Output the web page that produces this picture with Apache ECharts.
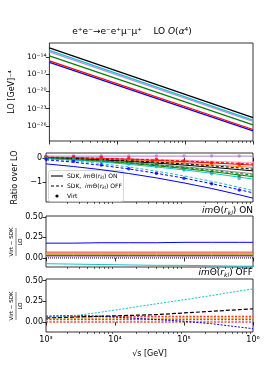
<!DOCTYPE html>
<html><head><meta charset="utf-8">
<script src="https://cdn.jsdelivr.net/npm/echarts@6/dist/echarts.min.js"></script>
<style>html,body{margin:0;padding:0;background:#fff}#c{width:266px;height:372px}</style>
</head><body><div id="c"></div>
<script>
// ---------- data ----------
const xLO = [1000, 1000000];
const xs = [1000, 2512, 6310, 15849, 39811, 100000, 251189, 630957, 1000000];
const xVirt = [1000, 2512, 6310, 15849, 39811, 100000, 251189, 630957];

// Panel 1: LO [GeV^-4]
const loBlack  = [3.6e-13, 2.9e-25];
const loCyan   = [1.35e-13, 1.07e-25];
const loViolet = [7.4e-14, 6.3e-26];
const loGreen  = [1.5e-14, 1.6e-26];
const loRed    = [2.0e-15, 2.5e-27];
const loBlue   = [1.1e-15, 1.4e-27];

// Panel 2: ratio over LO, SDK imTheta ON (solid)
const rOnPurple = [0.07, 0.07, 0.07, 0.07, 0.07, 0.07, 0.07, 0.07, 0.07];
const rOnPink   = [0.03, 0.01, -0.01, -0.03, -0.06, -0.10, -0.14, -0.18, -0.20];
const rOnRed    = [0.02, 0.00, -0.03, -0.07, -0.11, -0.16, -0.21, -0.27, -0.30];
const rOnOrange = [0.01, -0.02, -0.06, -0.10, -0.16, -0.22, -0.29, -0.36, -0.40];
const rOnBlack  = [0.00, -0.04, -0.09, -0.15, -0.22, -0.30, -0.39, -0.49, -0.54];
const rOnGray   = [-0.01, -0.06, -0.12, -0.19, -0.28, -0.37, -0.48, -0.60, -0.66];
const rOnGreen  = [-0.02, -0.08, -0.15, -0.23, -0.33, -0.44, -0.57, -0.71, -0.78];
const rOnCyan   = [-0.03, -0.09, -0.17, -0.27, -0.38, -0.50, -0.64, -0.80, -0.88];
const rOnBlue   = [-0.25, -0.36, -0.49, -0.65, -0.83, -1.04, -1.27, -1.53, -1.67];
// SDK imTheta OFF (dashed)
const rOffBlack  = [0.00, -0.03, -0.07, -0.12, -0.18, -0.25, -0.33, -0.42, -0.47];
const rOffRed    = [0.03, 0.01, -0.02, -0.05, -0.09, -0.13, -0.18, -0.23, -0.26];
const rOffGreen  = [-0.01, -0.06, -0.12, -0.20, -0.29, -0.40, -0.52, -0.65, -0.72];
const rOffCyan   = [-0.04, -0.12, -0.24, -0.38, -0.55, -0.75, -0.97, -1.22, -1.36];
const rOffBlue   = [-0.08, -0.18, -0.31, -0.46, -0.64, -0.84, -1.07, -1.32, -1.45];
// Virt (dots)
const vPurple = [0.07, 0.08, 0.08, 0.08, 0.08, 0.08, 0.08, 0.08];
const vRed    = [0.04, 0.04, 0.02, -0.01, -0.06, -0.12, -0.20, -0.26];
const vOrange = [0.02, 0.00, -0.04, -0.08, -0.13, -0.19, -0.25, -0.33];
const vGreen  = [-0.01, -0.06, -0.13, -0.21, -0.31, -0.45, -0.60, -0.75];
const vCyan   = [-0.02, -0.08, -0.16, -0.26, -0.37, -0.50, -0.66, -0.86];
const vBlue   = [-0.05, -0.14, -0.30, -0.45, -0.64, -0.85, -1.07, -1.33];

// Panel 3: (Virt-SDK)/LO, imTheta ON
const dOnBlue   = [0.18, 0.18, 0.185, 0.185, 0.185, 0.19, 0.19, 0.19, 0.19];
const dOnRed    = [0.07, 0.07, 0.07, 0.07, 0.07, 0.07, 0.07, 0.07, 0.07];
const dOnPink   = [0.06, 0.06, 0.06, 0.06, 0.06, 0.06, 0.06, 0.06, 0.06];
const dOnOrange = [0.05, 0.05, 0.05, 0.05, 0.05, 0.05, 0.05, 0.05, 0.05];
const dOnOlive  = [0.04, 0.04, 0.04, 0.04, 0.04, 0.04, 0.04, 0.04, 0.04];
const dOnGreen  = [0.03, 0.03, 0.03, 0.03, 0.03, 0.03, 0.03, 0.03, 0.03];
const dOnPurple = [0.02, 0.02, 0.02, 0.02, 0.02, 0.02, 0.02, 0.02, 0.02];
const dOnBlack  = [0.00, 0.00, 0.00, 0.00, 0.00, 0.00, 0.00, 0.00, 0.00];
const dOnCyan   = [-0.07, -0.075, -0.08, -0.085, -0.09, -0.09, -0.095, -0.10, -0.10];

// Panel 4: (Virt-SDK)/LO, imTheta OFF
const dOffCyan   = [0.06, 0.075, 0.12, 0.17, 0.22, 0.27, 0.32, 0.375, 0.40];
const dOffBlack  = [0.05, 0.06, 0.07, 0.08, 0.09, 0.11, 0.13, 0.15, 0.16];
const dOffBlue   = [0.07, 0.08, 0.07, 0.05, 0.03, 0.01, -0.02, -0.06, -0.08];
const dOffRed    = [0.07, 0.07, 0.07, 0.07, 0.07, 0.07, 0.07, 0.07, 0.07];
const dOffPink   = [0.06, 0.06, 0.06, 0.06, 0.06, 0.06, 0.06, 0.06, 0.06];
const dOffOrange = [0.05, 0.05, 0.05, 0.05, 0.05, 0.05, 0.05, 0.05, 0.05];
const dOffOlive  = [0.04, 0.04, 0.04, 0.04, 0.04, 0.04, 0.04, 0.04, 0.04];
const dOffGreen  = [0.03, 0.03, 0.03, 0.03, 0.03, 0.03, 0.03, 0.03, 0.03];
const dOffPurple = [0.01, 0.01, 0.01, 0.01, 0.01, 0.01, 0.01, 0.01, 0.01];
const dOffRed2   = [0.00, 0.00, 0.00, 0.00, 0.00, 0.00, 0.00, 0.00, 0.00];

// tick labels
const xMajor = [3, 4, 5, 6];
const y1Ticks = [-26, -23, -20, -17, -14];
const y2Ticks = [-1, 0];
const y34Ticks = [0, 0.25, 0.5];

const COL = {purple:'#b07cd8', pink:'#f2a6c6', red:'#ff0000', orange:'#ff7f0e', black:'#000000',
  gray:'#8a8a8a', olive:'#b5b520', green:'#008000', cyan:'#17becf', blue:'#0000ff', violet:'#c58be0'};

// ---------- helpers ----------
const SUP = {'-':'⁻','0':'⁰','1':'¹','2':'²','3':'³','4':'⁴','5':'⁵','6':'⁶','7':'⁷','8':'⁸','9':'⁹'};
const sup = s => String(s).split('').map(c => SUP[c] || c).join('');
const FONT = 'DejaVu Sans';

function line(p, xArr, yArr, color, dash, width, logY) {
  return {type:'line', xAxisIndex:p*2, yAxisIndex:p, symbol:'none', silent:true, animation:false,
    data: xArr.map((x,i) => [Math.log10(x), logY ? Math.log10(yArr[i]) : yArr[i]]),
    lineStyle:{color, width: width || 1, type: dash || 'solid'}, itemStyle:{color}, z:2};
}
function dots(p, xArr, yArr, color) {
  return {type:'scatter', xAxisIndex:p*2, yAxisIndex:p, symbol:'circle', symbolSize:3.5, silent:true, animation:false,
    data: xArr.map((x,i) => [Math.log10(x), yArr[i]]), itemStyle:{color}, z:3};
}

const minorVals = [];
for (let n = 3; n < 6; n++) for (let k = 2; k <= 9; k++) minorVals.push(Math.log10(k * Math.pow(10, n)));

const grids = [
  {left:46, width:207, top:43, height:98},
  {left:46, width:207, top:153, height:49},
  {left:46, width:207, top:216, height:51},
  {left:46, width:207, top:279, height:53}
].map(g => Object.assign(g, {show:true, borderColor:'#000', borderWidth:0.8, backgroundColor:'rgba(0,0,0,0)', containLabel:false}));

const xAxes = [];
for (let i = 0; i < 4; i++) {
  xAxes.push({gridIndex:i, type:'value', min:3, max:6, position:'bottom',
    axisLine:{show:false}, splitLine:{show:false},
    axisTick:{show:true, customValues:xMajor, length:3.5, lineStyle:{color:'#000', width:0.8}},
    axisLabel:{show:i===3, customValues:xMajor, formatter:v => '10' + sup(Math.round(v)), fontSize:8, color:'#000', fontFamily:FONT, margin:4},
    name: i===3 ? '√s [GeV]' : '', nameLocation:'middle', nameGap:18,
    nameTextStyle:{fontSize:8, color:'#000', fontFamily:FONT}});
  xAxes.push({gridIndex:i, type:'value', min:3, max:6, position:'bottom',
    axisLine:{show:false}, splitLine:{show:false},
    axisTick:{show:true, customValues:minorVals, length:2, lineStyle:{color:'#000', width:0.6}},
    axisLabel:{show:false}});
}

const yBase = {type:'value', axisLine:{show:false}, splitLine:{show:false},
  nameLocation:'middle', nameRotate:90, nameTextStyle:{fontSize:8, color:'#000', fontFamily:FONT}};
const yAxes = [
  Object.assign({}, yBase, {gridIndex:0, min:-28.6, max:-11.6, name:'LO [GeV]⁻⁴', nameGap:30,
    axisTick:{customValues:y1Ticks, length:3.5, lineStyle:{color:'#000', width:0.8}},
    axisLabel:{customValues:y1Ticks, formatter:v => '10' + sup(Math.round(v)), fontSize:7.5, color:'#000', fontFamily:FONT, margin:3}}),
  Object.assign({}, yBase, {gridIndex:1, min:-1.83, max:0.2, name:'Ratio over LO', nameGap:27,
    axisTick:{customValues:y2Ticks, length:3.5, lineStyle:{color:'#000', width:0.8}},
    axisLabel:{customValues:y2Ticks, formatter:v => v < 0 ? '−1' : '0', fontSize:8, color:'#000', fontFamily:FONT, margin:4}}),
  Object.assign({}, yBase, {gridIndex:2, min:-0.11, max:0.51,
    axisTick:{customValues:y34Ticks, length:3.5, lineStyle:{color:'#000', width:0.8}},
    axisLabel:{customValues:y34Ticks, formatter:v => v.toFixed(2), fontSize:8, color:'#000', fontFamily:FONT, margin:3}}),
  Object.assign({}, yBase, {gridIndex:3, min:-0.12, max:0.52,
    axisTick:{customValues:y34Ticks, length:3.5, lineStyle:{color:'#000', width:0.8}},
    axisLabel:{customValues:y34Ticks, formatter:v => v.toFixed(2), fontSize:8, color:'#000', fontFamily:FONT, margin:3}})
];

const series = [
  // panel 1
  line(0, xLO, loBlue, COL.blue, 'solid', 1.2, true),
  line(0, xLO, loRed, COL.red, 'solid', 1.2, true),
  line(0, xLO, loGreen, COL.green, 'solid', 1.2, true),
  line(0, xLO, loViolet, COL.violet, 'solid', 1.2, true),
  line(0, xLO, loCyan, COL.cyan, 'solid', 1.2, true),
  line(0, xLO, loBlack, COL.black, 'solid', 1.4, true),
  // panel 2 solid
  line(1, xs, rOnPurple, COL.purple),
  line(1, xs, rOnPink, COL.pink),
  line(1, xs, rOnRed, COL.red),
  line(1, xs, rOnOrange, COL.orange),
  line(1, xs, rOnBlack, COL.black),
  line(1, xs, rOnGray, COL.gray),
  line(1, xs, rOnGreen, COL.green),
  line(1, xs, rOnCyan, COL.cyan),
  line(1, xs, rOnBlue, COL.blue),
  // panel 2 dashed
  line(1, xs, rOffBlack, COL.black, [3,2]),
  line(1, xs, rOffRed, COL.red, [3,2]),
  line(1, xs, rOffGreen, COL.green, [3,2]),
  line(1, xs, rOffCyan, COL.cyan, [3,2]),
  line(1, xs, rOffBlue, COL.blue, [3,2]),
  // panel 2 dots
  dots(1, xVirt, vPurple, COL.purple),
  dots(1, xVirt, vOrange, COL.orange),
  dots(1, xVirt, vRed, COL.red),
  dots(1, xVirt, vGreen, COL.green),
  dots(1, xVirt, vCyan, COL.cyan),
  dots(1, xVirt, vBlue, COL.blue),
  // panel 3
  line(2, xs, dOnBlue, COL.blue),
  line(2, xs, dOnRed, COL.red),
  line(2, xs, dOnPink, COL.pink),
  line(2, xs, dOnOrange, COL.orange),
  line(2, xs, dOnOlive, COL.olive),
  line(2, xs, dOnGreen, COL.green),
  line(2, xs, dOnPurple, COL.purple),
  line(2, xs, dOnBlack, COL.black, [1,1]),
  line(2, xs, dOnCyan, COL.cyan),
  // panel 4
  line(3, xs, dOffRed2, COL.red, [2,1.5]),
  line(3, xs, dOffPurple, COL.purple, [2,1.5]),
  line(3, xs, dOffGreen, COL.green, [2,1.5]),
  line(3, xs, dOffOlive, COL.olive, [2,1.5]),
  line(3, xs, dOffOrange, COL.orange, [2,1.5]),
  line(3, xs, dOffPink, COL.pink, [2,1.5]),
  line(3, xs, dOffRed, COL.red, [2,1.5]),
  line(3, xs, dOffBlue, COL.blue, [2,1.5]),
  line(3, xs, dOffBlack, COL.black, [4,2], 1.2),
  line(3, xs, dOffCyan, COL.cyan, [2,1.5])
];

const richLbl = {
  n:{fontSize:9, fontFamily:FONT, color:'#000'},
  i:{fontSize:9, fontFamily:FONT, fontStyle:'italic', color:'#000'},
  s:{fontSize:6, fontFamily:FONT, fontStyle:'italic', color:'#000', padding:[4,0,0,0]}
};
const richLeg = {
  n:{fontSize:6, fontFamily:FONT, color:'#000'},
  i:{fontSize:6, fontFamily:FONT, fontStyle:'italic', color:'#000'},
  s:{fontSize:4.5, fontFamily:FONT, fontStyle:'italic', color:'#000', padding:[3,0,0,0]}
};

function fracLabel(cx, cy) {
  return {type:'group', x:cx, y:cy, rotation:Math.PI/2, children:[
    {type:'text', style:{text:'Virt − SDK', x:0, y:-1.5, fontSize:5.5, fontFamily:FONT, fill:'#000', align:'center', verticalAlign:'bottom'}},
    {type:'line', shape:{x1:-14, y1:0, x2:14, y2:0}, style:{stroke:'#000', lineWidth:0.5}},
    {type:'text', style:{text:'LO', x:0, y:1.5, fontSize:5.5, fontFamily:FONT, fill:'#000', align:'center', verticalAlign:'top'}}
  ]};
}

const graphic = [
  {type:'text', x:132, y:32, style:{
    text:'{n|e⁺e⁻→e⁻e⁺μ⁻μ⁺    LO }{i|O}{n|(}{i|α}{n|⁴)}',
    rich:{n:{fontSize:9, fontFamily:FONT, fill:'#000'}, i:{fontSize:9, fontFamily:FONT, fontStyle:'italic', fill:'#000'}},
    align:'center', verticalAlign:'middle'}},
  {type:'text', x:253, y:211, style:{text:'{i|im}{n|Θ(}{i|r}{s|kl}{n|) ON}', rich:richLbl, align:'right', verticalAlign:'middle'}},
  {type:'text', x:253, y:273, style:{text:'{i|im}{n|Θ(}{i|r}{s|kl}{n|) OFF}', rich:richLbl, align:'right', verticalAlign:'middle'}},
  fracLabel(16, 242),
  fracLabel(16, 306),
  // legend
  {type:'group', z:50, children:[
    {type:'rect', shape:{x:48.5, y:170.5, width:75, height:31, r:2}, style:{fill:'rgba(255,255,255,0.85)', stroke:'#cccccc', lineWidth:0.8}},
    {type:'line', shape:{x1:51, y1:176, x2:63, y2:176}, style:{stroke:'#000', lineWidth:1.1}},
    {type:'text', x:67, y:176, style:{text:'{n|SDK, }{i|im}{n|Θ(}{i|r}{s|kl}{n|) ON}', rich:richLeg, verticalAlign:'middle'}},
    {type:'line', shape:{x1:51, y1:186, x2:63, y2:186}, style:{stroke:'#000', lineWidth:1.1, lineDash:[3,2]}},
    {type:'text', x:67, y:186, style:{text:'{n|SDK,  }{i|im}{n|Θ(}{i|r}{s|kl}{n|) OFF}', rich:richLeg, verticalAlign:'middle'}},
    {type:'circle', shape:{cx:57, cy:196, r:1.6}, style:{fill:'#000'}},
    {type:'text', x:67, y:196, style:{text:'Virt', fontSize:6, fontFamily:FONT, fill:'#000', verticalAlign:'middle'}}
  ]}
];

const chart = echarts.init(document.getElementById('c'), null, {renderer:'canvas'});
chart.setOption({animation:false, backgroundColor:'#fff', grid:grids, xAxis:xAxes, yAxis:yAxes, series, graphic});
</script></body></html>
